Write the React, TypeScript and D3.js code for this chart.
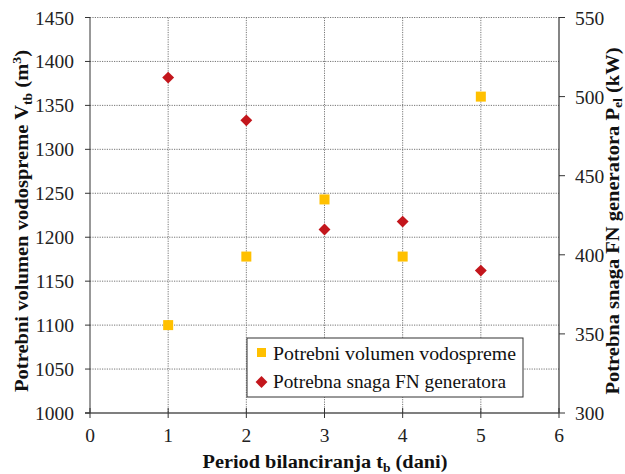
import React from "react";
import * as d3 from "d3";

const periods = [1, 2, 3, 4, 5];
const volume = [1100, 1178, 1243, 1178, 1360];
const power = [512, 485, 416, 421, 390];
const xTicks = [0, 1, 2, 3, 4, 5, 6];
const leftTicks = [1000, 1050, 1100, 1150, 1200, 1250, 1300, 1350, 1400, 1450];
const rightTicks = [300, 350, 400, 450, 500, 550];
const seriesNames = ["Potrebni volumen vodospreme", "Potrebna snaga FN generatora"];

const W = 625, H = 474;
const L = 90, R = 559, T = 17.5, B = 413;
const YELLOW = "#FFC000";
const RED = "#C3161C";
const FONT = "Liberation Serif";

export default function App() {
  const x = d3.scaleLinear().domain([0, 6]).range([L, R]);
  const yL = d3.scaleLinear().domain([1000, 1450]).range([B, T]);
  const yR = d3.scaleLinear().domain([300, 550]).range([B, T]);
  const diamond = d3.symbol().type(d3.symbolDiamond2).size(90)();

  return (
    <svg width={W} height={H} style={{ position: "absolute", left: 0, top: 0, background: "#fff" }}>
      {/* grid */}
      {leftTicks.slice(1).map((t) => (
        <line key={"h" + t} x1={L} x2={R} y1={yL(t)} y2={yL(t)} stroke="#666" strokeWidth={0.9} strokeDasharray="1.2,1.2" />
      ))}
      {xTicks.slice(1, -1).map((t) => (
        <line key={"v" + t} x1={x(t)} x2={x(t)} y1={T} y2={B} stroke="#666" strokeWidth={0.9} strokeDasharray="1.2,1.2" />
      ))}
      {/* axes */}
      <line x1={L} x2={L} y1={T} y2={B} stroke="#333" strokeWidth={1} />
      <line x1={R} x2={R} y1={T} y2={B} stroke="#333" strokeWidth={1.2} />
      <line x1={L - 5} x2={R} y1={B} y2={B} stroke="#555" strokeWidth={1.5} />
      {leftTicks.map((t) => (
        <g key={"lt" + t}>
          <line x1={L - 5} x2={L} y1={yL(t)} y2={yL(t)} stroke="#333" />
          <text x={L - 16} y={yL(t) + 7} textAnchor="end" fontFamily={FONT} fontSize={19.5} fill="#222">{t}</text>
        </g>
      ))}
      {rightTicks.map((t) => (
        <g key={"rt" + t}>
          <line x1={R} x2={R + 6} y1={yR(t)} y2={yR(t)} stroke="#333" />
          <text x={R + 16} y={yR(t) + 7} textAnchor="start" fontFamily={FONT} fontSize={19.5} fill="#222">{t}</text>
        </g>
      ))}
      {xTicks.map((t) => (
        <g key={"xt" + t}>
          <line x1={x(t)} x2={x(t)} y1={B - 5} y2={B + 5} stroke="#333" />
          <text x={x(t)} y={B + 29} textAnchor="middle" fontFamily={FONT} fontSize={19.5} fill="#222">{t}</text>
        </g>
      ))}
      {/* axis titles */}
      <text x={325} y={468} textAnchor="middle" fontFamily={FONT} fontSize={18} fontWeight="bold" fill="#111" textLength={245} lengthAdjust="spacingAndGlyphs">
        Period bilanciranja t<tspan fontSize={12} dy={4}>b</tspan><tspan dy={-4}> (dani)</tspan>
      </text>
      <text transform={`translate(28, 221) rotate(-90)`} textAnchor="middle" fontFamily={FONT} fontSize={18} fontWeight="bold" fill="#111" textLength={342} lengthAdjust="spacingAndGlyphs">
        Potrebni volumen vodospreme V<tspan fontSize={12} dy={4}>tb</tspan><tspan dy={-4}> (m</tspan><tspan fontSize={12} dy={-7}>3</tspan><tspan dy={7}>)</tspan>
      </text>
      <text transform={`translate(619, 221) rotate(-90)`} textAnchor="middle" fontFamily={FONT} fontSize={18} fontWeight="bold" fill="#111" textLength={347} lengthAdjust="spacingAndGlyphs">
        Potrebna snaga FN generatora P<tspan fontSize={12} dy={3}>el</tspan><tspan dy={-3}> (kW)</tspan>
      </text>
      {/* data */}
      {periods.map((p, i) => (
        <rect key={"v" + p} x={x(p) - 5} y={yL(volume[i]) - 5} width={10} height={10} fill={YELLOW} />
      ))}
      {periods.map((p, i) => (
        <path key={"p" + p} d={diamond} transform={`translate(${x(p)},${yR(power[i])})`} fill={RED} />
      ))}
      {/* legend */}
      <rect x={247} y={338} width={276} height={59} fill="#fff" stroke="#333" strokeWidth={1} />
      <rect x={257} y={348} width={9} height={9} fill={YELLOW} />
      <text x={273} y={360} fontFamily={FONT} fontSize={18} fill="#111" textLength={243} lengthAdjust="spacingAndGlyphs">{seriesNames[0]}</text>
      <path d={diamond} transform="translate(261.5,382)" fill={RED} />
      <text x={273} y={388} fontFamily={FONT} fontSize={18} fill="#111" textLength={233} lengthAdjust="spacingAndGlyphs">{seriesNames[1]}</text>
    </svg>
  );
}
